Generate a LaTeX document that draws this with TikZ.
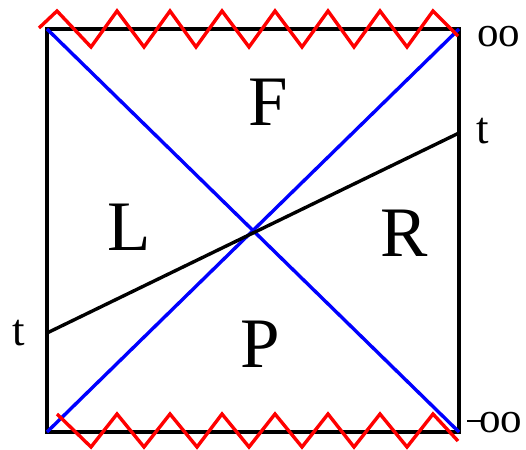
\documentclass[tikz,border=0pt]{standalone}
\usepackage{fontspec}
\setmainfont{Liberation Serif}
\begin{document}
\begin{tikzpicture}[x=1pt,y=-1pt,
  frame/.style={black,line width=3.6pt},
  horizon/.style={blue,line width=3.4pt},
  tline/.style={black,line width=3.4pt},
  sing/.style={red,line width=3.4pt,line join=miter},
  big/.style={font=\fontsize{71}{71}\selectfont,inner sep=0pt,anchor=base},
  small/.style={font=\fontsize{45}{45}\selectfont,inner sep=0pt,anchor=base},
  inflab/.style={font=\fontsize{43}{43}\selectfont,inner sep=0pt,anchor=base west}]
\useasboundingbox (0,0) rectangle (526,449);
\coordinate (tl) at (47,29);
\coordinate (tr) at (459,29);
\coordinate (bl) at (47,432);
\coordinate (br) at (459,432);
\coordinate (tL) at (47,333);
\coordinate (tR) at (459,133);
\draw[frame] (tl) -- (tr) -- (br) -- (bl) -- cycle;
\draw[horizon] (tl) -- (br);
\draw[horizon] (bl) -- (tr);
\draw[tline] (tL) -- (tR);
\draw[sing] (39,28) -- (57,11) -- (91,47) -- (117,11) -- (144,47) -- (170,11) -- (196,47) -- (222,11) -- (249,47) -- (275,11) -- (302,47) -- (328,11) -- (354,47) -- (380,11) -- (407,47) -- (433,11) -- (458,36);
\draw[sing] (57,414) -- (91,447) -- (117,414) -- (144,447) -- (170,414) -- (197,447) -- (222,414) -- (249,447) -- (275,414) -- (302,447) -- (328,414) -- (354,447) -- (380,414) -- (407,447) -- (433,414) -- (458,441);
\node[big] (F) at (268,125) {F};
\node[big] (L) at (129,250) {L};
\node[big] (R) at (404,256) {R};
\node[big] (P) at (260,367) {P};
\node[small] (tleft) at (19,345) {t};
\node[small] (tright) at (483,143) {t};
\node[inflab] (inf) at (477,47) {oo};
\node[inflab] (minf) at (467,432) {\rule[10pt]{14pt}{2pt}\kern-2pt oo};
\end{tikzpicture}
\end{document}
